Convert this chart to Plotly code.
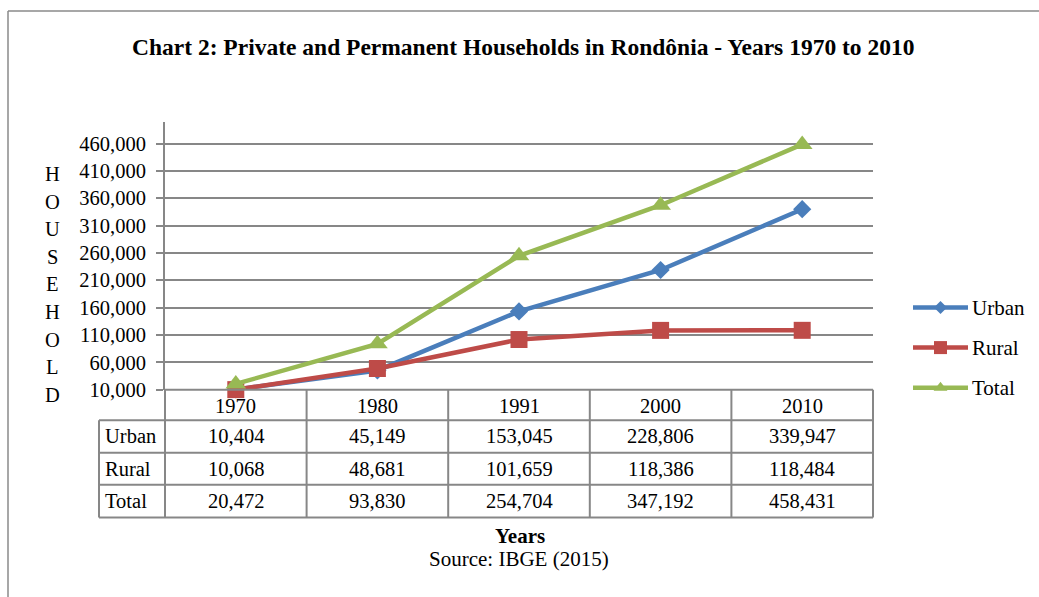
import plotly.graph_objects as go

# ---- data ----
years = ["1970", "1980", "1991", "2000", "2010"]
urban = [10404, 45149, 153045, 228806, 339947]
rural = [10068, 48681, 101659, 118386, 118484]
total = [20472, 93830, 254704, 347192, 458431]
series_names = ["Urban", "Rural", "Total"]
y_ticks = [10000, 60000, 110000, 160000, 210000, 260000, 310000, 360000, 410000, 460000]

W, H = 1039, 597
H_VIEW = 585  # visible drawing height used for layout positions
FONT = "Liberation Serif, Times New Roman, serif"
GRID = "#878787"
colors = {"Urban": "#4A7EBB", "Rural": "#BE4B48", "Total": "#98B954"}
symbols = {"Urban": "diamond", "Rural": "square", "Total": "triangle-up"}
msize = {"Urban": 14, "Rural": 17, "Total": 18}
values = {"Urban": urban, "Rural": rural, "Total": total}
TXT = 20.5


def px(x):
    return x / W


def py(y):
    return 1 - y / H_VIEW


plot_left, plot_right, plot_top, plot_bottom = 165, 873, 122, 389
row_edges = [389, 419.5, 452, 484, 516.5]
label_left = 99

fig = go.Figure()

xs = list(range(len(years)))
for name in series_names:
    fig.add_trace(go.Scatter(
        x=xs, y=values[name], mode="lines+markers", name=name,
        line=dict(color=colors[name], width=4.5),
        marker=dict(symbol=symbols[name], size=msize[name], color=colors[name],
                    line=dict(width=0)),
        showlegend=False, cliponaxis=False,
    ))

annotations = []

# legend samples on an auxiliary axis
legend_rows = {"Urban": 307, "Rural": 347, "Total": 387}
leg_msize = {"Urban": 10, "Rural": 13, "Total": 12}
for name in series_names:
    yy = py(legend_rows[name])
    fig.add_trace(go.Scatter(
        x=[0, 1], y=[yy, yy], mode="lines", xaxis="x2", yaxis="y2",
        line=dict(color=colors[name], width=4.5), showlegend=False, hoverinfo="skip",
    ))
    fig.add_trace(go.Scatter(
        x=[0.5], y=[yy], mode="markers", xaxis="x2", yaxis="y2",
        marker=dict(symbol=symbols[name], size=leg_msize[name], color=colors[name]),
        showlegend=False, hoverinfo="skip",
    ))
    annotations.append(dict(x=px(970), y=yy, xref="paper", yref="paper", text=name,
                            showarrow=False, xanchor="left", yanchor="middle",
                            font=dict(family=FONT, size=21, color="black")))

shapes = []
line_style = dict(color=GRID, width=2)

# table: horizontal rules
shapes.append(dict(type="line", xref="paper", yref="paper",
                   x0=px(plot_left), x1=px(plot_right), y0=py(row_edges[0]), y1=py(row_edges[0]),
                   line=line_style))
for ry in row_edges[1:]:
    shapes.append(dict(type="line", xref="paper", yref="paper",
                       x0=px(label_left), x1=px(plot_right), y0=py(ry), y1=py(ry), line=line_style))
# table: vertical rules
shapes.append(dict(type="line", xref="paper", yref="paper",
                   x0=px(label_left), x1=px(label_left), y0=py(row_edges[1]), y1=py(row_edges[-1]),
                   line=line_style))
for i in range(len(years) + 1):
    xb = px(plot_left + (plot_right - plot_left) * i / len(years))
    shapes.append(dict(type="line", xref="paper", yref="paper",
                       x0=xb, x1=xb, y0=py(row_edges[0]), y1=py(row_edges[-1]), line=line_style))

# outer frame (left and top edges)
shapes.append(dict(type="line", xref="paper", yref="paper", x0=px(8), x1=px(8),
                   y0=py(11), y1=py(600), line=dict(color="#8a8a8a", width=1.5)))
shapes.append(dict(type="line", xref="paper", yref="paper", x0=px(8), x1=1,
                   y0=py(11), y1=py(11), line=dict(color="#8a8a8a", width=1.5)))

cell_font = dict(family=FONT, size=TXT, color="black")
# year header row
for i, yr in enumerate(years):
    annotations.append(dict(x=i, y=py((row_edges[0] + row_edges[1]) / 2 + 1), xref="x", yref="paper",
                            text=yr, showarrow=False, font=cell_font,
                            xanchor="center", yanchor="middle"))
# data rows
for r, name in enumerate(series_names):
    yc = py((row_edges[r + 1] + row_edges[r + 2]) / 2)
    annotations.append(dict(x=px(label_left + 4), y=yc, xref="paper", yref="paper", text=name,
                            showarrow=False, xanchor="left", yanchor="middle", font=cell_font))
    for i, v in enumerate(values[name]):
        annotations.append(dict(x=i, y=yc, xref="x", yref="paper", text=f"{v:,}",
                                showarrow=False, xanchor="center", yanchor="middle", font=cell_font))

# vertical axis title, one letter per line
for k, ch in enumerate("HOUSEHOLD"):
    annotations.append(dict(x=px(52), y=py(174 + 27.5 * k), xref="paper", yref="paper", text=ch,
                            showarrow=False, xanchor="center", yanchor="middle",
                            font=dict(family=FONT, size=TXT, color="black")))

annotations.append(dict(x=px(523), y=py(47), xref="paper", yref="paper",
                        text="<b>Chart 2: Private and Permanent Households in Rondônia - Years 1970 to 2010</b>",
                        showarrow=False, xanchor="center", yanchor="middle",
                        font=dict(family=FONT, size=23.5, color="black")))
annotations.append(dict(x=px(520), y=py(535), xref="paper", yref="paper", text="<b>Years</b>",
                        showarrow=False, xanchor="center", yanchor="middle",
                        font=dict(family=FONT, size=21, color="black")))
annotations.append(dict(x=px(519), y=py(558), xref="paper", yref="paper", text="Source: IBGE (2015)",
                        showarrow=False, xanchor="center", yanchor="middle",
                        font=dict(family=FONT, size=21, color="black")))

fig.update_layout(
    width=W, height=H, autosize=False, margin=dict(l=0, r=0, t=0, b=0, pad=0),
    paper_bgcolor="white", plot_bgcolor="white",
    xaxis=dict(domain=[px(plot_left), px(plot_right)], range=[-0.5, len(years) - 0.5],
               showticklabels=False, showgrid=False, zeroline=False, showline=False, fixedrange=True),
    yaxis=dict(domain=[py(plot_bottom), py(plot_top)], range=[10000, 499000],
               tickvals=y_ticks, ticktext=[f"{t:,}" for t in y_ticks],
               showgrid=True, gridcolor=GRID, gridwidth=2, zeroline=False,
               showline=True, linecolor=GRID, linewidth=2,
               ticks="outside", ticklen=7, tickcolor=GRID, tickwidth=2,
               tickfont=dict(family=FONT, size=TXT, color="black"), ticklabelstandoff=6),
    xaxis2=dict(domain=[px(913), px(968)], range=[0, 1], visible=False, fixedrange=True),
    yaxis2=dict(domain=[0, 1], range=[0, 1], visible=False, fixedrange=True),
    shapes=shapes, annotations=annotations, showlegend=False,
)

fig.write_html("out.html")
